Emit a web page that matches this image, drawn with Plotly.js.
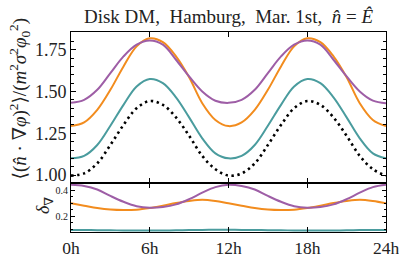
<!DOCTYPE html>
<html><head><meta charset="utf-8">
<script src="https://cdn.plot.ly/plotly-3.0.1.min.js"></script>
<style>html,body{margin:0;padding:0;background:#fff}#chart{width:399px;height:266px}</style>
</head><body><div id="chart"></div>
<script>
var hours = [0,1,2,3,4,5,6,7,8,9,10,11,12,13,14,15,16,17,18,19,20,21,22,23,24];
var tickVals = [0,6,12,18,24];
var tickText = ['0h','6h','12h','18h','24h'];

// main panel: <(n.grad phi)^2>/(m^2 sigma^2 phi0^2)
var purpleMain = [1.432,1.45,1.51,1.61,1.71,1.78,1.805,1.78,1.69,1.59,1.50,1.445,1.432,1.45,1.51,1.61,1.71,1.78,1.805,1.78,1.69,1.59,1.50,1.445,1.43];
var orangeMain = [1.293,1.315,1.39,1.51,1.65,1.77,1.818,1.795,1.71,1.585,1.43,1.33,1.293,1.315,1.39,1.51,1.65,1.77,1.818,1.795,1.71,1.585,1.43,1.33,1.293];
var tealMain   = [1.10,1.115,1.18,1.295,1.42,1.53,1.575,1.55,1.465,1.345,1.22,1.13,1.10,1.115,1.18,1.295,1.42,1.53,1.575,1.55,1.465,1.345,1.22,1.13,1.10];
var blackMain  = [0.997,1.01,1.07,1.18,1.30,1.40,1.443,1.42,1.345,1.235,1.115,1.035,0.997,1.01,1.07,1.18,1.30,1.40,1.443,1.42,1.345,1.235,1.115,1.035,0.996];

// lower panel: delta_grad
var purpleDelta = [0.441,0.432,0.405,0.355,0.31,0.276,0.264,0.27,0.29,0.33,0.38,0.423,0.441,0.432,0.405,0.355,0.31,0.276,0.264,0.27,0.29,0.33,0.38,0.423,0.441];
var orangeDelta = [0.298,0.28,0.262,0.25,0.246,0.249,0.262,0.28,0.30,0.316,0.325,0.316,0.298,0.28,0.262,0.25,0.246,0.249,0.262,0.28,0.30,0.316,0.325,0.316,0.298];
var tealDelta   = [0.093,0.092,0.091,0.09,0.089,0.088,0.088,0.089,0.09,0.092,0.093,0.094,0.094,0.093,0.092,0.091,0.09,0.089,0.088,0.088,0.089,0.09,0.092,0.093,0.093];

var PURPLE = '#9e5ea6', ORANGE = '#f28c1e', TEAL = '#4a9c9e';
var FONT = 'Liberation Serif, DejaVu Serif, serif';

function tr(y, color, ax, dash){
  return {x: hours, y: y, type:'scatter', mode:'lines', xaxis: ax[0], yaxis: ax[1],
    line:{color: color, width: dash ? 2.6 : 2, shape:'spline', smoothing:1, dash: dash || 'solid'},
    hoverinfo:'skip', showlegend:false};
}
var data = [
  tr(blackMain, '#000000', ['x2','y2'], '2.4px,3.6px'),
  tr(tealMain, TEAL, ['x2','y2']),
  tr(orangeMain, ORANGE, ['x2','y2']),
  tr(purpleMain, PURPLE, ['x2','y2']),
  tr(tealDelta, TEAL, ['x','y']),
  tr(orangeDelta, ORANGE, ['x','y']),
  tr(purpleDelta, PURPLE, ['x','y'])
];

var axCommon = {showline:true, linecolor:'#000', linewidth:1, mirror:'ticks', ticks:'inside',
  tickcolor:'#000', showgrid:false, zeroline:false};

var layout = {
  width:399, height:266,
  margin:{l:71, r:13, t:31.5, b:34},
  paper_bgcolor:'#fff', plot_bgcolor:'#fff',
  font:{family:FONT, color:'#222'},
  title:{text:'Disk DM,  Hamburg,  Mar. 1st,  <i>n̂</i> = <i>Ê</i>', font:{family:FONT, size:19, color:'#222'},
    xref:'paper', x:0.5, xanchor:'center', yref:'container', y:0.94, yanchor:'middle'},
  xaxis: Object.assign({}, axCommon, {domain:[0,1], range:[0,24], anchor:'y',
    tickvals:tickVals, ticktext:tickText, ticklen:5, ticklabeloverflow:'allow',
    tickfont:{size:17.5, family:FONT, color:'#222'}}),
  yaxis: Object.assign({}, axCommon, {domain:[0,0.247], range:[0.077,0.458], anchor:'x',
    tickvals:[0.2,0.4], ticktext:['0.2','0.4'], ticklen:4, tickfont:{size:10, family:FONT, color:'#222'},
    minor:{tickvals:[0.1,0.15,0.25,0.3,0.35,0.45], ticklen:2, tickcolor:'#000', ticks:'inside'}}),
  xaxis2: Object.assign({}, axCommon, {domain:[0,1], range:[0,24], anchor:'y2', matches:'x',
    tickvals:tickVals, showticklabels:false, ticklen:5}),
  yaxis2: Object.assign({}, axCommon, {domain:[0.247,1], range:[0.955,1.856], anchor:'x2',
    tickvals:[1.0,1.25,1.5,1.75], ticktext:['1.00','1.25','1.50','1.75'], ticklen:5,
    tickfont:{size:18, family:FONT, color:'#222'},
    minor:{dtick:0.05, tick0:0, ticklen:3, tickcolor:'#000', ticks:'inside'}}),
  annotations:[
    {text:'⟨(<i>n̂</i> · ∇<i>φ</i>)<sup>2</sup>⟩/(<i>m</i><sup>2</sup><i>σ</i><sup>2</sup><i>φ</i><sub>0</sub><sup>2</sup>)',
     xref:'paper', yref:'paper', x:0, y:0.663, xanchor:'center', yanchor:'middle', xshift:-52,
     textangle:-90, showarrow:false, font:{family:FONT, size:19, color:'#222'}},
    {text:'<i>δ</i><sub>∇</sub>', xref:'paper', yref:'paper', x:0, y:0.13, xanchor:'center', yanchor:'middle',
     xshift:-27, textangle:-90, showarrow:false, font:{family:FONT, size:18, color:'#222'}}
  ]
};
Plotly.newPlot('chart', data, layout, {staticPlot:true, displayModeBar:false});
</script></body></html>
